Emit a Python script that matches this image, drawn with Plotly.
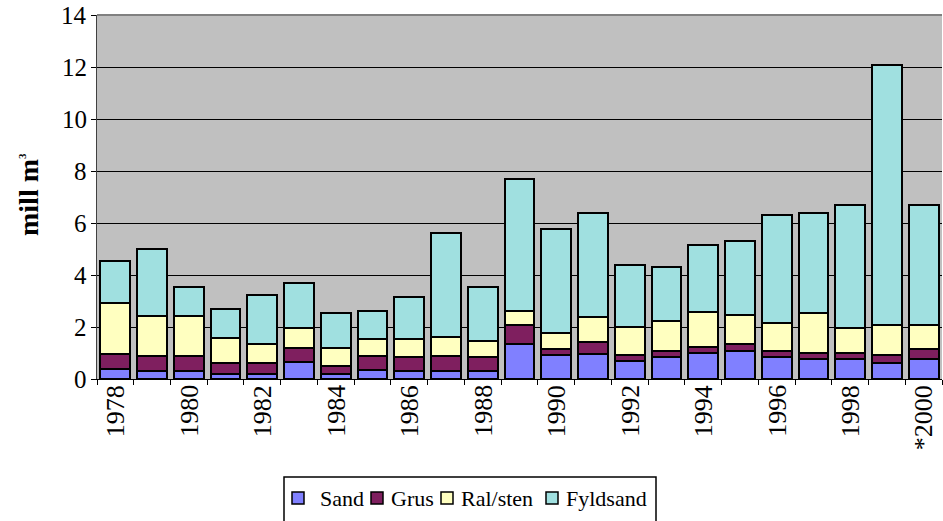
import plotly.graph_objects as go

years = ["1978", "1979", "1980", "1981", "1982", "1983", "1984", "1985", "1986", "1987",
         "1988", "1989", "1990", "1991", "1992", "1993", "1994", "1995", "1996", "1997",
         "1998", "1999", "*2000"]
sand = [0.38, 0.29, 0.29, 0.19, 0.19, 0.65, 0.20, 0.36, 0.31, 0.31,
        0.31, 1.36, 0.91, 0.98, 0.69, 0.83, 1.00, 1.08, 0.83, 0.77,
        0.77, 0.62, 0.77]
grus = [0.60, 0.59, 0.59, 0.41, 0.41, 0.56, 0.31, 0.53, 0.54, 0.59,
        0.54, 0.70, 0.23, 0.45, 0.23, 0.25, 0.23, 0.25, 0.25, 0.23,
        0.23, 0.30, 0.40]
ralsten = [1.93, 1.56, 1.56, 0.99, 0.76, 0.77, 0.70, 0.63, 0.69, 0.70,
           0.60, 0.56, 0.63, 0.97, 1.08, 1.14, 1.36, 1.13, 1.07, 1.54,
           0.98, 1.14, 0.89]
fyldsand = [1.62, 2.56, 1.08, 1.09, 1.86, 1.70, 1.32, 1.09, 1.62, 4.00,
            2.09, 5.06, 4.00, 4.00, 2.38, 2.09, 2.55, 2.85, 4.16, 3.84,
            4.71, 10.02, 4.63]
x_labels = [y for i, y in enumerate(years) if i % 2 == 0]
y_ticks = [0, 2, 4, 6, 8, 10, 12, 14]
series_names = ["Sand", "Grus", "Ral/sten", "Fyldsand"]
series_colors = ["#8080FF", "#7F1F5F", "#FFFFC0", "#A0E0E0"]
series_values = [sand, grus, ralsten, fyldsand]

FONT = "Liberation Serif"
W, H = 943, 521
ML, MR, MT, MB = 97, 1, 15, 142
PW, PH = W - ML - MR, H - MT - MB


def px_x(px):
    return (px - ML) / PW


def px_y(py):
    return (H - MB - py) / PH


fig = go.Figure()
for name, vals, col in zip(series_names, series_values, series_colors):
    fig.add_trace(go.Bar(
        x=years, y=vals, name=name,
        marker=dict(color=col, line=dict(color="black", width=2)),
    ))

fig.update_layout(
    template="none",
    barmode="stack",
    bargap=0.19,
    width=W, height=H,
    margin=dict(l=ML, r=MR, t=MT, b=MB, autoexpand=False),
    paper_bgcolor="white",
    plot_bgcolor="#C0C0C0",
    font=dict(family=FONT, size=24, color="black"),
    showlegend=False,
    xaxis=dict(
        type="category",
        categoryorder="array", categoryarray=years,
        range=[-0.5, len(years) - 0.5],
        autorange=False,
        automargin=False,
        showticklabels=False,
        ticks="outside", tickson="boundaries", ticklen=5, tickcolor="black",
        showline=True, linecolor="black", linewidth=1,
        showgrid=False,
    ),
    yaxis=dict(
        automargin=False,
        range=[0, 14], autorange=False,
        tickmode="array", tickvals=y_ticks,
        showticklabels=False,
        ticks="outside", ticklen=5, tickcolor="black",
        showline=True, linecolor="#404040", linewidth=1,
        showgrid=True, gridcolor="black", gridwidth=1,
        zeroline=False,
    ),
)

# top border of plot area
fig.add_shape(type="line", xref="paper", yref="paper", x0=0, x1=1, y0=1, y1=1,
              line=dict(color="#808080", width=2))

# x tick labels (every second category), placed at the category's axis position
for lab in x_labels:
    fig.add_annotation(text=lab, x=years.index(lab), xref="x", y=0, yref="y",
                       xanchor="center", yanchor="top", yshift=-4,
                       textangle=-90, showarrow=False,
                       font=dict(family=FONT, size=26, color="black"))

# y tick labels
for v in y_ticks:
    fig.add_annotation(text=str(v), x=0, xref="paper", y=v, yref="y",
                       xanchor="right", yanchor="middle", xshift=-8,
                       showarrow=False,
                       font=dict(family=FONT, size=25, color="black"))

# y axis title
fig.add_annotation(
    text="<b>mill m<sup><span style='font-size:11px'>3</span></sup></b>",
    xref="paper", yref="paper",
    x=px_x(28), y=px_y(195), xanchor="center", yanchor="middle",
    textangle=-90, showarrow=False,
    font=dict(family=FONT, size=28, color="black"),
)

# legend box
fig.add_shape(type="rect", xref="paper", yref="paper",
              x0=px_x(284), x1=px_x(656), y0=px_y(477), y1=px_y(540),
              line=dict(color="black", width=1.5), fillcolor="white", layer="above")

sq_centers = [298, 377, 447, 552]
txt_starts = [318, 389, 459, 564]
LEG_Y = 498
for name, col, cx, tx in zip(series_names, series_colors, sq_centers, txt_starts):
    fig.add_shape(type="rect", xref="paper", yref="paper",
                  x0=px_x(cx - 6), x1=px_x(cx + 6), y0=px_y(LEG_Y - 6), y1=px_y(LEG_Y + 6),
                  line=dict(color="black", width=1.5), fillcolor=col, layer="above")
    fig.add_annotation(text=name, xref="paper", yref="paper",
                       x=px_x(tx), y=px_y(LEG_Y), xanchor="left", yanchor="middle",
                       showarrow=False, font=dict(family=FONT, size=22, color="black"))

fig.write_html("out.html", post_script="document.body.style.margin='0px';",
               config={"displayModeBar": False})
